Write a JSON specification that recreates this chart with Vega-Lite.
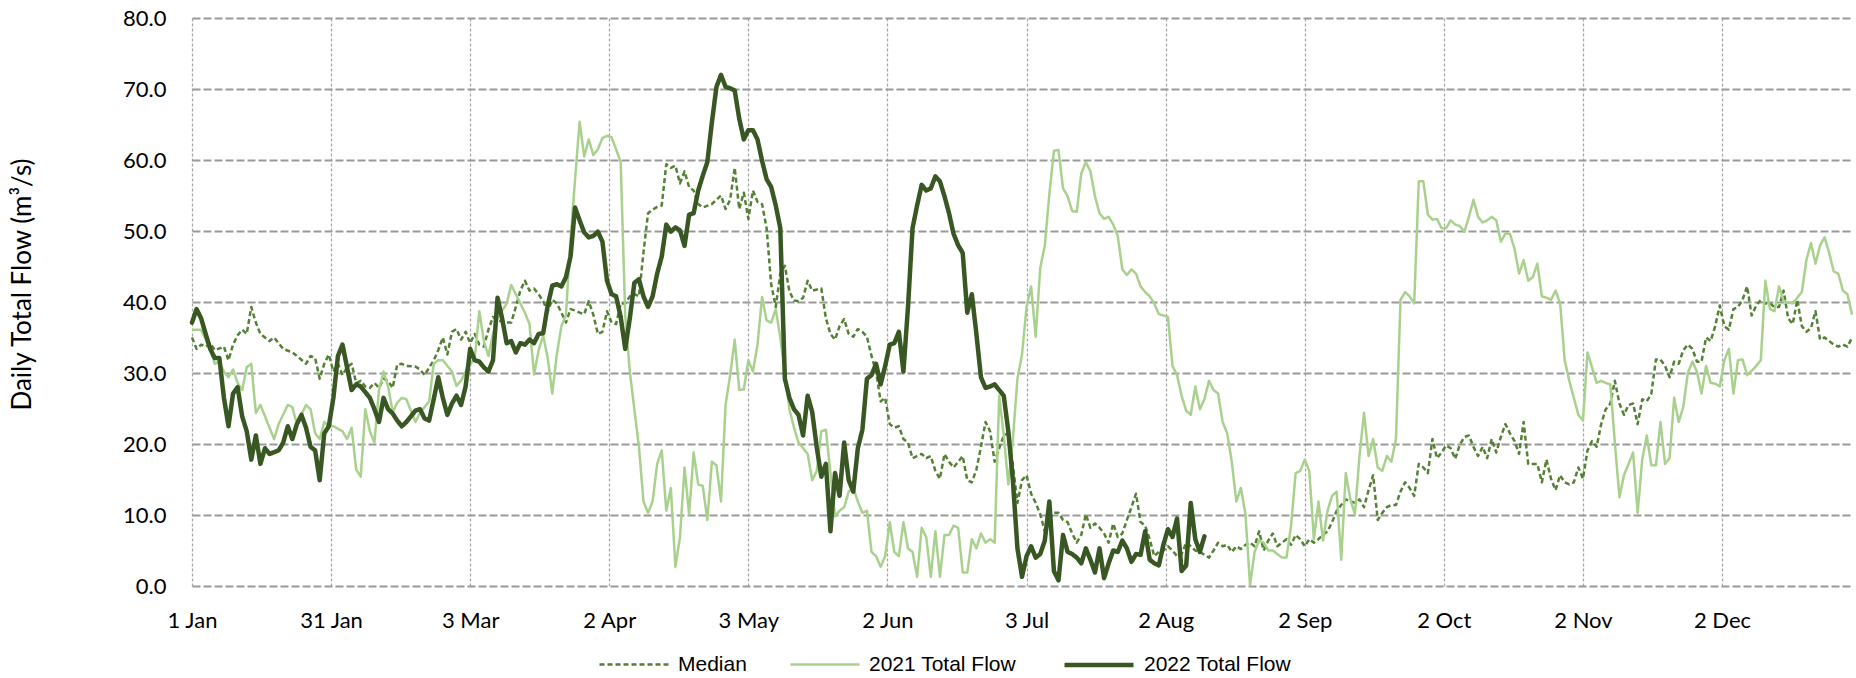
{
"$schema": "https://vega.github.io/schema/vega-lite/v6.json",
"width": 1660, "height": 568,
"autosize": {"type": "none"},
"padding": {"left": 192, "top": 18, "right": 4, "bottom": 92},
"background": "white",
"config": {"view": {"stroke": null}, "font": "Lato"},
"data": {"values": [
{"series":"Median","day":1,"flow":35.0},{"series":"Median","day":2,"flow":33.4},{"series":"Median","day":3,"flow":34.0},{"series":"Median","day":4,"flow":33.7},{"series":"Median","day":5,"flow":34.2},{"series":"Median","day":6,"flow":33.2},{"series":"Median","day":8,"flow":33.7},{"series":"Median","day":9,"flow":31.8},{"series":"Median","day":10,"flow":34.0},{"series":"Median","day":11,"flow":35.3},{"series":"Median","day":12,"flow":36.1},{"series":"Median","day":13,"flow":35.5},{"series":"Median","day":14,"flow":39.3},{"series":"Median","day":15,"flow":37.1},{"series":"Median","day":16,"flow":35.5},{"series":"Median","day":18,"flow":34.5},{"series":"Median","day":19,"flow":35.0},{"series":"Median","day":20,"flow":34.2},{"series":"Median","day":21,"flow":33.4},{"series":"Median","day":23,"flow":32.9},{"series":"Median","day":24,"flow":32.4},{"series":"Median","day":26,"flow":31.3},{"series":"Median","day":27,"flow":32.4},{"series":"Median","day":28,"flow":32.1},{"series":"Median","day":29,"flow":29.2},{"series":"Median","day":30,"flow":31.3},{"series":"Median","day":31,"flow":32.6},{"series":"Median","day":32,"flow":30.2},{"series":"Median","day":33,"flow":31.3},{"series":"Median","day":34,"flow":29.7},{"series":"Median","day":35,"flow":30.8},{"series":"Median","day":36,"flow":31.3},{"series":"Median","day":37,"flow":28.6},{"series":"Median","day":38,"flow":28.9},{"series":"Median","day":39,"flow":28.1},{"series":"Median","day":40,"flow":27.9},{"series":"Median","day":41,"flow":28.6},{"series":"Median","day":42,"flow":27.9},{"series":"Median","day":43,"flow":29.2},{"series":"Median","day":44,"flow":28.9},{"series":"Median","day":45,"flow":27.9},{"series":"Median","day":46,"flow":31.2},{"series":"Median","day":47,"flow":31.3},{"series":"Median","day":48,"flow":31.0},{"series":"Median","day":50,"flow":30.9},{"series":"Median","day":51,"flow":30.5},{"series":"Median","day":52,"flow":29.7},{"series":"Median","day":54,"flow":31.8},{"series":"Median","day":55,"flow":33.2},{"series":"Median","day":56,"flow":35.0},{"series":"Median","day":57,"flow":32.6},{"series":"Median","day":58,"flow":35.8},{"series":"Median","day":59,"flow":36.2},{"series":"Median","day":60,"flow":34.7},{"series":"Median","day":61,"flow":35.8},{"series":"Median","day":62,"flow":34.2},{"series":"Median","day":63,"flow":35.5},{"series":"Median","day":64,"flow":34.0},{"series":"Median","day":65,"flow":33.7},{"series":"Median","day":66,"flow":36.1},{"series":"Median","day":67,"flow":37.9},{"series":"Median","day":68,"flow":37.4},{"series":"Median","day":70,"flow":37.1},{"series":"Median","day":71,"flow":37.1},{"series":"Median","day":72,"flow":39.3},{"series":"Median","day":73,"flow":41.6},{"series":"Median","day":74,"flow":43.0},{"series":"Median","day":75,"flow":41.6},{"series":"Median","day":76,"flow":41.9},{"series":"Median","day":77,"flow":41.1},{"series":"Median","day":78,"flow":40.1},{"series":"Median","day":79,"flow":38.7},{"series":"Median","day":80,"flow":40.3},{"series":"Median","day":81,"flow":39.8},{"series":"Median","day":82,"flow":38.5},{"series":"Median","day":83,"flow":37.1},{"series":"Median","day":84,"flow":39.0},{"series":"Median","day":85,"flow":38.8},{"series":"Median","day":86,"flow":38.5},{"series":"Median","day":87,"flow":38.3},{"series":"Median","day":88,"flow":40.1},{"series":"Median","day":89,"flow":38.2},{"series":"Median","day":90,"flow":35.5},{"series":"Median","day":91,"flow":35.8},{"series":"Median","day":92,"flow":38.7},{"series":"Median","day":93,"flow":37.1},{"series":"Median","day":94,"flow":36.9},{"series":"Median","day":95,"flow":39.8},{"series":"Median","day":96,"flow":39.8},{"series":"Median","day":97,"flow":40.8},{"series":"Median","day":98,"flow":41.1},{"series":"Median","day":99,"flow":40.8},{"series":"Median","day":100,"flow":47.0},{"series":"Median","day":101,"flow":52.5},{"series":"Median","day":102,"flow":53.0},{"series":"Median","day":103,"flow":53.4},{"series":"Median","day":104,"flow":53.6},{"series":"Median","day":105,"flow":59.4},{"series":"Median","day":106,"flow":58.9},{"series":"Median","day":107,"flow":59.2},{"series":"Median","day":108,"flow":56.7},{"series":"Median","day":109,"flow":58.4},{"series":"Median","day":110,"flow":56.2},{"series":"Median","day":111,"flow":55.7},{"series":"Median","day":112,"flow":53.8},{"series":"Median","day":113,"flow":53.3},{"series":"Median","day":115,"flow":53.8},{"series":"Median","day":117,"flow":55.0},{"series":"Median","day":118,"flow":53.1},{"series":"Median","day":119,"flow":54.4},{"series":"Median","day":120,"flow":58.9},{"series":"Median","day":121,"flow":53.1},{"series":"Median","day":122,"flow":55.4},{"series":"Median","day":123,"flow":51.7},{"series":"Median","day":124,"flow":55.7},{"series":"Median","day":125,"flow":54.1},{"series":"Median","day":126,"flow":53.8},{"series":"Median","day":127,"flow":50.4},{"series":"Median","day":128,"flow":42.5},{"series":"Median","day":129,"flow":39.3},{"series":"Median","day":130,"flow":44.0},{"series":"Median","day":131,"flow":45.1},{"series":"Median","day":132,"flow":41.5},{"series":"Median","day":133,"flow":40.2},{"series":"Median","day":134,"flow":40.1},{"series":"Median","day":135,"flow":40.6},{"series":"Median","day":136,"flow":43.0},{"series":"Median","day":137,"flow":41.6},{"series":"Median","day":139,"flow":41.9},{"series":"Median","day":140,"flow":37.7},{"series":"Median","day":141,"flow":35.5},{"series":"Median","day":142,"flow":34.7},{"series":"Median","day":143,"flow":36.6},{"series":"Median","day":144,"flow":37.6},{"series":"Median","day":145,"flow":35.5},{"series":"Median","day":146,"flow":35.1},{"series":"Median","day":147,"flow":36.2},{"series":"Median","day":148,"flow":35.8},{"series":"Median","day":149,"flow":35.1},{"series":"Median","day":150,"flow":32.4},{"series":"Median","day":151,"flow":30.2},{"series":"Median","day":152,"flow":26.0},{"series":"Median","day":153,"flow":26.5},{"series":"Median","day":154,"flow":22.8},{"series":"Median","day":155,"flow":22.3},{"series":"Median","day":156,"flow":22.5},{"series":"Median","day":157,"flow":20.7},{"series":"Median","day":158,"flow":20.2},{"series":"Median","day":159,"flow":18.0},{"series":"Median","day":160,"flow":18.3},{"series":"Median","day":161,"flow":18.6},{"series":"Median","day":162,"flow":18.0},{"series":"Median","day":163,"flow":18.3},{"series":"Median","day":164,"flow":16.2},{"series":"Median","day":165,"flow":15.1},{"series":"Median","day":166,"flow":18.6},{"series":"Median","day":167,"flow":17.5},{"series":"Median","day":168,"flow":16.7},{"series":"Median","day":169,"flow":17.5},{"series":"Median","day":170,"flow":18.3},{"series":"Median","day":171,"flow":14.9},{"series":"Median","day":172,"flow":14.6},{"series":"Median","day":173,"flow":16.4},{"series":"Median","day":174,"flow":19.6},{"series":"Median","day":175,"flow":23.1},{"series":"Median","day":176,"flow":21.8},{"series":"Median","day":177,"flow":17.5},{"series":"Median","day":178,"flow":19.4},{"series":"Median","day":179,"flow":21.2},{"series":"Median","day":180,"flow":21.5},{"series":"Median","day":181,"flow":17.0},{"series":"Median","day":182,"flow":11.7},{"series":"Median","day":183,"flow":14.9},{"series":"Median","day":184,"flow":15.6},{"series":"Median","day":185,"flow":13.0},{"series":"Median","day":186,"flow":11.7},{"series":"Median","day":187,"flow":10.1},{"series":"Median","day":188,"flow":7.7},{"series":"Median","day":189,"flow":9.5},{"series":"Median","day":190,"flow":10.3},{"series":"Median","day":191,"flow":10.3},{"series":"Median","day":192,"flow":9.3},{"series":"Median","day":193,"flow":9.0},{"series":"Median","day":194,"flow":7.4},{"series":"Median","day":195,"flow":6.1},{"series":"Median","day":196,"flow":7.2},{"series":"Median","day":197,"flow":10.1},{"series":"Median","day":198,"flow":8.2},{"series":"Median","day":199,"flow":8.8},{"series":"Median","day":200,"flow":8.2},{"series":"Median","day":201,"flow":7.4},{"series":"Median","day":202,"flow":6.1},{"series":"Median","day":203,"flow":8.8},{"series":"Median","day":204,"flow":6.9},{"series":"Median","day":205,"flow":7.4},{"series":"Median","day":206,"flow":9.3},{"series":"Median","day":207,"flow":11.1},{"series":"Median","day":208,"flow":13.0},{"series":"Median","day":209,"flow":9.0},{"series":"Median","day":210,"flow":8.5},{"series":"Median","day":211,"flow":6.6},{"series":"Median","day":212,"flow":4.2},{"series":"Median","day":213,"flow":4.8},{"series":"Median","day":214,"flow":5.0},{"series":"Median","day":215,"flow":5.6},{"series":"Median","day":216,"flow":5.0},{"series":"Median","day":217,"flow":4.2},{"series":"Median","day":218,"flow":4.5},{"series":"Median","day":219,"flow":6.1},{"series":"Median","day":220,"flow":5.6},{"series":"Median","day":221,"flow":5.0},{"series":"Median","day":222,"flow":4.8},{"series":"Median","day":224,"flow":4.0},{"series":"Median","day":225,"flow":5.0},{"series":"Median","day":226,"flow":6.1},{"series":"Median","day":227,"flow":5.6},{"series":"Median","day":228,"flow":5.8},{"series":"Median","day":229,"flow":4.8},{"series":"Median","day":230,"flow":5.6},{"series":"Median","day":231,"flow":5.2},{"series":"Median","day":232,"flow":5.8},{"series":"Median","day":233,"flow":6.1},{"series":"Median","day":234,"flow":5.6},{"series":"Median","day":235,"flow":7.7},{"series":"Median","day":236,"flow":5.0},{"series":"Median","day":237,"flow":6.4},{"series":"Median","day":238,"flow":7.4},{"series":"Median","day":239,"flow":5.6},{"series":"Median","day":240,"flow":6.1},{"series":"Median","day":241,"flow":6.6},{"series":"Median","day":242,"flow":5.8},{"series":"Median","day":243,"flow":7.2},{"series":"Median","day":244,"flow":6.6},{"series":"Median","day":245,"flow":5.6},{"series":"Median","day":246,"flow":6.6},{"series":"Median","day":247,"flow":6.1},{"series":"Median","day":248,"flow":6.6},{"series":"Median","day":249,"flow":7.2},{"series":"Median","day":250,"flow":7.7},{"series":"Median","day":251,"flow":9.0},{"series":"Median","day":252,"flow":10.6},{"series":"Median","day":253,"flow":11.4},{"series":"Median","day":254,"flow":12.2},{"series":"Median","day":256,"flow":11.7},{"series":"Median","day":257,"flow":12.2},{"series":"Median","day":258,"flow":11.1},{"series":"Median","day":259,"flow":13.5},{"series":"Median","day":260,"flow":15.6},{"series":"Median","day":261,"flow":9.3},{"series":"Median","day":262,"flow":10.3},{"series":"Median","day":263,"flow":11.1},{"series":"Median","day":264,"flow":11.4},{"series":"Median","day":265,"flow":11.4},{"series":"Median","day":266,"flow":13.3},{"series":"Median","day":267,"flow":14.6},{"series":"Median","day":268,"flow":13.8},{"series":"Median","day":269,"flow":12.7},{"series":"Median","day":270,"flow":17.2},{"series":"Median","day":271,"flow":16.7},{"series":"Median","day":272,"flow":15.9},{"series":"Median","day":273,"flow":20.7},{"series":"Median","day":274,"flow":18.0},{"series":"Median","day":275,"flow":18.8},{"series":"Median","day":276,"flow":19.8},{"series":"Median","day":277,"flow":19.4},{"series":"Median","day":278,"flow":17.9},{"series":"Median","day":279,"flow":19.9},{"series":"Median","day":280,"flow":21.0},{"series":"Median","day":281,"flow":21.2},{"series":"Median","day":282,"flow":19.6},{"series":"Median","day":283,"flow":18.3},{"series":"Median","day":284,"flow":19.6},{"series":"Median","day":285,"flow":18.0},{"series":"Median","day":286,"flow":20.7},{"series":"Median","day":287,"flow":18.8},{"series":"Median","day":288,"flow":21.0},{"series":"Median","day":289,"flow":22.8},{"series":"Median","day":290,"flow":21.5},{"series":"Median","day":291,"flow":20.4},{"series":"Median","day":292,"flow":18.6},{"series":"Median","day":293,"flow":23.1},{"series":"Median","day":294,"flow":17.2},{"series":"Median","day":295,"flow":17.2},{"series":"Median","day":296,"flow":17.2},{"series":"Median","day":297,"flow":14.6},{"series":"Median","day":298,"flow":17.8},{"series":"Median","day":299,"flow":15.1},{"series":"Median","day":300,"flow":13.5},{"series":"Median","day":301,"flow":15.6},{"series":"Median","day":302,"flow":14.6},{"series":"Median","day":303,"flow":14.3},{"series":"Median","day":304,"flow":14.6},{"series":"Median","day":305,"flow":16.7},{"series":"Median","day":306,"flow":15.1},{"series":"Median","day":307,"flow":19.1},{"series":"Median","day":308,"flow":20.4},{"series":"Median","day":309,"flow":19.6},{"series":"Median","day":310,"flow":22.8},{"series":"Median","day":311,"flow":24.9},{"series":"Median","day":312,"flow":25.7},{"series":"Median","day":313,"flow":28.9},{"series":"Median","day":314,"flow":25.7},{"series":"Median","day":315,"flow":24.1},{"series":"Median","day":316,"flow":25.5},{"series":"Median","day":317,"flow":25.7},{"series":"Median","day":318,"flow":22.8},{"series":"Median","day":319,"flow":26.3},{"series":"Median","day":320,"flow":26.0},{"series":"Median","day":321,"flow":27.1},{"series":"Median","day":322,"flow":31.9},{"series":"Median","day":323,"flow":31.9},{"series":"Median","day":324,"flow":31.0},{"series":"Median","day":325,"flow":29.4},{"series":"Median","day":326,"flow":31.6},{"series":"Median","day":327,"flow":31.3},{"series":"Median","day":328,"flow":33.2},{"series":"Median","day":329,"flow":34.0},{"series":"Median","day":330,"flow":33.4},{"series":"Median","day":331,"flow":31.6},{"series":"Median","day":332,"flow":31.6},{"series":"Median","day":333,"flow":35.0},{"series":"Median","day":334,"flow":34.5},{"series":"Median","day":335,"flow":36.6},{"series":"Median","day":336,"flow":39.5},{"series":"Median","day":337,"flow":36.6},{"series":"Median","day":338,"flow":36.1},{"series":"Median","day":339,"flow":39.0},{"series":"Median","day":340,"flow":39.3},{"series":"Median","day":341,"flow":40.3},{"series":"Median","day":342,"flow":42.2},{"series":"Median","day":343,"flow":38.1},{"series":"Median","day":344,"flow":39.5},{"series":"Median","day":345,"flow":40.3},{"series":"Median","day":346,"flow":39.8},{"series":"Median","day":347,"flow":39.8},{"series":"Median","day":348,"flow":39.3},{"series":"Median","day":349,"flow":39.3},{"series":"Median","day":350,"flow":41.6},{"series":"Median","day":351,"flow":37.7},{"series":"Median","day":352,"flow":36.9},{"series":"Median","day":353,"flow":40.3},{"series":"Median","day":354,"flow":36.6},{"series":"Median","day":355,"flow":35.8},{"series":"Median","day":356,"flow":36.3},{"series":"Median","day":357,"flow":38.7},{"series":"Median","day":358,"flow":34.7},{"series":"Median","day":359,"flow":35.0},{"series":"Median","day":360,"flow":34.5},{"series":"Median","day":361,"flow":34.0},{"series":"Median","day":362,"flow":33.7},{"series":"Median","day":363,"flow":34.0},{"series":"Median","day":364,"flow":33.7},{"series":"Median","day":365,"flow":35.0},
{"series":"2021 Total Flow","day":1,"flow":36.1},{"series":"2021 Total Flow","day":3,"flow":36.1},{"series":"2021 Total Flow","day":4,"flow":34.7},{"series":"2021 Total Flow","day":5,"flow":33.2},{"series":"2021 Total Flow","day":6,"flow":31.3},{"series":"2021 Total Flow","day":7,"flow":31.6},{"series":"2021 Total Flow","day":8,"flow":30.2},{"series":"2021 Total Flow","day":9,"flow":29.4},{"series":"2021 Total Flow","day":10,"flow":30.5},{"series":"2021 Total Flow","day":11,"flow":28.6},{"series":"2021 Total Flow","day":12,"flow":27.6},{"series":"2021 Total Flow","day":13,"flow":30.8},{"series":"2021 Total Flow","day":14,"flow":31.3},{"series":"2021 Total Flow","day":15,"flow":24.4},{"series":"2021 Total Flow","day":16,"flow":25.5},{"series":"2021 Total Flow","day":17,"flow":23.9},{"series":"2021 Total Flow","day":19,"flow":20.7},{"series":"2021 Total Flow","day":20,"flow":22.8},{"series":"2021 Total Flow","day":22,"flow":25.5},{"series":"2021 Total Flow","day":23,"flow":25.2},{"series":"2021 Total Flow","day":24,"flow":22.8},{"series":"2021 Total Flow","day":26,"flow":25.5},{"series":"2021 Total Flow","day":27,"flow":24.9},{"series":"2021 Total Flow","day":28,"flow":21.5},{"series":"2021 Total Flow","day":29,"flow":20.7},{"series":"2021 Total Flow","day":30,"flow":23.1},{"series":"2021 Total Flow","day":31,"flow":22.5},{"series":"2021 Total Flow","day":32,"flow":22.5},{"series":"2021 Total Flow","day":34,"flow":21.8},{"series":"2021 Total Flow","day":35,"flow":20.7},{"series":"2021 Total Flow","day":36,"flow":22.3},{"series":"2021 Total Flow","day":37,"flow":16.4},{"series":"2021 Total Flow","day":38,"flow":15.4},{"series":"2021 Total Flow","day":39,"flow":24.9},{"series":"2021 Total Flow","day":40,"flow":21.8},{"series":"2021 Total Flow","day":41,"flow":20.2},{"series":"2021 Total Flow","day":42,"flow":27.6},{"series":"2021 Total Flow","day":43,"flow":30.2},{"series":"2021 Total Flow","day":44,"flow":28.1},{"series":"2021 Total Flow","day":45,"flow":24.5},{"series":"2021 Total Flow","day":46,"flow":25.8},{"series":"2021 Total Flow","day":47,"flow":26.5},{"series":"2021 Total Flow","day":48,"flow":26.3},{"series":"2021 Total Flow","day":49,"flow":24.7},{"series":"2021 Total Flow","day":50,"flow":23.1},{"series":"2021 Total Flow","day":51,"flow":24.4},{"series":"2021 Total Flow","day":52,"flow":25.2},{"series":"2021 Total Flow","day":53,"flow":26.0},{"series":"2021 Total Flow","day":54,"flow":31.3},{"series":"2021 Total Flow","day":55,"flow":31.8},{"series":"2021 Total Flow","day":56,"flow":31.8},{"series":"2021 Total Flow","day":58,"flow":30.2},{"series":"2021 Total Flow","day":59,"flow":28.2},{"series":"2021 Total Flow","day":60,"flow":28.9},{"series":"2021 Total Flow","day":61,"flow":30.2},{"series":"2021 Total Flow","day":63,"flow":32.1},{"series":"2021 Total Flow","day":64,"flow":38.7},{"series":"2021 Total Flow","day":65,"flow":34.5},{"series":"2021 Total Flow","day":66,"flow":32.4},{"series":"2021 Total Flow","day":67,"flow":35.5},{"series":"2021 Total Flow","day":68,"flow":37.7},{"series":"2021 Total Flow","day":70,"flow":39.8},{"series":"2021 Total Flow","day":71,"flow":42.4},{"series":"2021 Total Flow","day":72,"flow":41.1},{"series":"2021 Total Flow","day":73,"flow":39.8},{"series":"2021 Total Flow","day":74,"flow":38.5},{"series":"2021 Total Flow","day":75,"flow":36.9},{"series":"2021 Total Flow","day":76,"flow":29.8},{"series":"2021 Total Flow","day":77,"flow":33.2},{"series":"2021 Total Flow","day":78,"flow":35.3},{"series":"2021 Total Flow","day":79,"flow":32.1},{"series":"2021 Total Flow","day":80,"flow":27.1},{"series":"2021 Total Flow","day":81,"flow":32.6},{"series":"2021 Total Flow","day":82,"flow":36.6},{"series":"2021 Total Flow","day":83,"flow":38.2},{"series":"2021 Total Flow","day":84,"flow":48.8},{"series":"2021 Total Flow","day":85,"flow":57.3},{"series":"2021 Total Flow","day":86,"flow":65.4},{"series":"2021 Total Flow","day":87,"flow":60.5},{"series":"2021 Total Flow","day":88,"flow":62.9},{"series":"2021 Total Flow","day":89,"flow":60.7},{"series":"2021 Total Flow","day":90,"flow":61.5},{"series":"2021 Total Flow","day":91,"flow":63.1},{"series":"2021 Total Flow","day":92,"flow":63.4},{"series":"2021 Total Flow","day":93,"flow":63.2},{"series":"2021 Total Flow","day":94,"flow":61.5},{"series":"2021 Total Flow","day":95,"flow":59.7},{"series":"2021 Total Flow","day":96,"flow":38.0},{"series":"2021 Total Flow","day":97,"flow":30.2},{"series":"2021 Total Flow","day":98,"flow":24.9},{"series":"2021 Total Flow","day":99,"flow":19.6},{"series":"2021 Total Flow","day":100,"flow":11.9},{"series":"2021 Total Flow","day":101,"flow":10.3},{"series":"2021 Total Flow","day":102,"flow":11.9},{"series":"2021 Total Flow","day":103,"flow":17.2},{"series":"2021 Total Flow","day":104,"flow":19.1},{"series":"2021 Total Flow","day":105,"flow":10.6},{"series":"2021 Total Flow","day":106,"flow":13.8},{"series":"2021 Total Flow","day":107,"flow":2.7},{"series":"2021 Total Flow","day":108,"flow":6.9},{"series":"2021 Total Flow","day":109,"flow":16.7},{"series":"2021 Total Flow","day":110,"flow":10.1},{"series":"2021 Total Flow","day":111,"flow":18.8},{"series":"2021 Total Flow","day":112,"flow":14.3},{"series":"2021 Total Flow","day":113,"flow":14.1},{"series":"2021 Total Flow","day":114,"flow":9.3},{"series":"2021 Total Flow","day":115,"flow":17.5},{"series":"2021 Total Flow","day":116,"flow":17.0},{"series":"2021 Total Flow","day":117,"flow":11.9},{"series":"2021 Total Flow","day":118,"flow":25.5},{"series":"2021 Total Flow","day":119,"flow":29.7},{"series":"2021 Total Flow","day":120,"flow":34.7},{"series":"2021 Total Flow","day":121,"flow":27.6},{"series":"2021 Total Flow","day":122,"flow":27.7},{"series":"2021 Total Flow","day":123,"flow":31.8},{"series":"2021 Total Flow","day":124,"flow":30.2},{"series":"2021 Total Flow","day":125,"flow":34.0},{"series":"2021 Total Flow","day":126,"flow":40.7},{"series":"2021 Total Flow","day":127,"flow":37.4},{"series":"2021 Total Flow","day":128,"flow":37.1},{"series":"2021 Total Flow","day":129,"flow":39.0},{"series":"2021 Total Flow","day":130,"flow":35.0},{"series":"2021 Total Flow","day":131,"flow":30.0},{"series":"2021 Total Flow","day":132,"flow":24.9},{"series":"2021 Total Flow","day":133,"flow":22.3},{"series":"2021 Total Flow","day":134,"flow":20.2},{"series":"2021 Total Flow","day":136,"flow":18.6},{"series":"2021 Total Flow","day":137,"flow":14.9},{"series":"2021 Total Flow","day":138,"flow":16.2},{"series":"2021 Total Flow","day":139,"flow":21.8},{"series":"2021 Total Flow","day":140,"flow":22.0},{"series":"2021 Total Flow","day":141,"flow":15.9},{"series":"2021 Total Flow","day":142,"flow":9.8},{"series":"2021 Total Flow","day":143,"flow":10.6},{"series":"2021 Total Flow","day":144,"flow":11.1},{"series":"2021 Total Flow","day":145,"flow":13.3},{"series":"2021 Total Flow","day":146,"flow":13.8},{"series":"2021 Total Flow","day":147,"flow":11.9},{"series":"2021 Total Flow","day":148,"flow":10.3},{"series":"2021 Total Flow","day":149,"flow":10.6},{"series":"2021 Total Flow","day":150,"flow":4.8},{"series":"2021 Total Flow","day":151,"flow":4.2},{"series":"2021 Total Flow","day":152,"flow":2.7},{"series":"2021 Total Flow","day":153,"flow":4.2},{"series":"2021 Total Flow","day":154,"flow":9.0},{"series":"2021 Total Flow","day":155,"flow":4.8},{"series":"2021 Total Flow","day":156,"flow":4.2},{"series":"2021 Total Flow","day":157,"flow":9.0},{"series":"2021 Total Flow","day":158,"flow":5.3},{"series":"2021 Total Flow","day":159,"flow":4.8},{"series":"2021 Total Flow","day":160,"flow":1.3},{"series":"2021 Total Flow","day":161,"flow":8.2},{"series":"2021 Total Flow","day":162,"flow":6.9},{"series":"2021 Total Flow","day":163,"flow":1.3},{"series":"2021 Total Flow","day":164,"flow":7.7},{"series":"2021 Total Flow","day":165,"flow":1.3},{"series":"2021 Total Flow","day":166,"flow":7.2},{"series":"2021 Total Flow","day":167,"flow":7.2},{"series":"2021 Total Flow","day":168,"flow":8.5},{"series":"2021 Total Flow","day":169,"flow":8.2},{"series":"2021 Total Flow","day":170,"flow":1.9},{"series":"2021 Total Flow","day":171,"flow":1.9},{"series":"2021 Total Flow","day":172,"flow":6.6},{"series":"2021 Total Flow","day":173,"flow":5.3},{"series":"2021 Total Flow","day":174,"flow":7.4},{"series":"2021 Total Flow","day":175,"flow":6.1},{"series":"2021 Total Flow","day":176,"flow":6.6},{"series":"2021 Total Flow","day":177,"flow":6.1},{"series":"2021 Total Flow","day":178,"flow":26.8},{"series":"2021 Total Flow","day":179,"flow":21.2},{"series":"2021 Total Flow","day":180,"flow":14.3},{"series":"2021 Total Flow","day":181,"flow":20.7},{"series":"2021 Total Flow","day":182,"flow":29.2},{"series":"2021 Total Flow","day":183,"flow":32.6},{"series":"2021 Total Flow","day":184,"flow":39.3},{"series":"2021 Total Flow","day":185,"flow":42.2},{"series":"2021 Total Flow","day":186,"flow":35.1},{"series":"2021 Total Flow","day":187,"flow":44.8},{"series":"2021 Total Flow","day":188,"flow":48.0},{"series":"2021 Total Flow","day":189,"flow":55.2},{"series":"2021 Total Flow","day":190,"flow":61.3},{"series":"2021 Total Flow","day":191,"flow":61.4},{"series":"2021 Total Flow","day":192,"flow":56.0},{"series":"2021 Total Flow","day":193,"flow":54.9},{"series":"2021 Total Flow","day":194,"flow":52.8},{"series":"2021 Total Flow","day":195,"flow":52.7},{"series":"2021 Total Flow","day":196,"flow":58.1},{"series":"2021 Total Flow","day":197,"flow":59.7},{"series":"2021 Total Flow","day":198,"flow":58.4},{"series":"2021 Total Flow","day":199,"flow":54.9},{"series":"2021 Total Flow","day":200,"flow":52.5},{"series":"2021 Total Flow","day":201,"flow":51.7},{"series":"2021 Total Flow","day":202,"flow":52.0},{"series":"2021 Total Flow","day":203,"flow":50.9},{"series":"2021 Total Flow","day":204,"flow":49.3},{"series":"2021 Total Flow","day":205,"flow":44.6},{"series":"2021 Total Flow","day":206,"flow":43.8},{"series":"2021 Total Flow","day":207,"flow":44.6},{"series":"2021 Total Flow","day":208,"flow":44.0},{"series":"2021 Total Flow","day":209,"flow":42.2},{"series":"2021 Total Flow","day":210,"flow":41.4},{"series":"2021 Total Flow","day":211,"flow":40.8},{"series":"2021 Total Flow","day":212,"flow":39.8},{"series":"2021 Total Flow","day":213,"flow":38.3},{"series":"2021 Total Flow","day":214,"flow":38.1},{"series":"2021 Total Flow","day":215,"flow":37.9},{"series":"2021 Total Flow","day":216,"flow":31.0},{"series":"2021 Total Flow","day":217,"flow":29.7},{"series":"2021 Total Flow","day":218,"flow":26.8},{"series":"2021 Total Flow","day":219,"flow":24.7},{"series":"2021 Total Flow","day":220,"flow":24.1},{"series":"2021 Total Flow","day":221,"flow":28.1},{"series":"2021 Total Flow","day":222,"flow":24.9},{"series":"2021 Total Flow","day":223,"flow":26.3},{"series":"2021 Total Flow","day":224,"flow":28.9},{"series":"2021 Total Flow","day":225,"flow":27.6},{"series":"2021 Total Flow","day":226,"flow":27.1},{"series":"2021 Total Flow","day":227,"flow":23.1},{"series":"2021 Total Flow","day":228,"flow":21.5},{"series":"2021 Total Flow","day":229,"flow":17.5},{"series":"2021 Total Flow","day":230,"flow":11.9},{"series":"2021 Total Flow","day":231,"flow":13.8},{"series":"2021 Total Flow","day":232,"flow":10.1},{"series":"2021 Total Flow","day":233,"flow":0.1},{"series":"2021 Total Flow","day":234,"flow":4.8},{"series":"2021 Total Flow","day":235,"flow":6.4},{"series":"2021 Total Flow","day":236,"flow":6.1},{"series":"2021 Total Flow","day":237,"flow":5.0},{"series":"2021 Total Flow","day":238,"flow":5.0},{"series":"2021 Total Flow","day":239,"flow":4.5},{"series":"2021 Total Flow","day":240,"flow":4.0},{"series":"2021 Total Flow","day":241,"flow":4.0},{"series":"2021 Total Flow","day":242,"flow":8.5},{"series":"2021 Total Flow","day":243,"flow":15.9},{"series":"2021 Total Flow","day":244,"flow":16.2},{"series":"2021 Total Flow","day":245,"flow":17.8},{"series":"2021 Total Flow","day":246,"flow":16.2},{"series":"2021 Total Flow","day":247,"flow":6.6},{"series":"2021 Total Flow","day":248,"flow":11.9},{"series":"2021 Total Flow","day":249,"flow":6.4},{"series":"2021 Total Flow","day":250,"flow":10.6},{"series":"2021 Total Flow","day":251,"flow":12.7},{"series":"2021 Total Flow","day":252,"flow":13.3},{"series":"2021 Total Flow","day":253,"flow":3.7},{"series":"2021 Total Flow","day":254,"flow":15.9},{"series":"2021 Total Flow","day":255,"flow":12.2},{"series":"2021 Total Flow","day":256,"flow":10.1},{"series":"2021 Total Flow","day":257,"flow":18.3},{"series":"2021 Total Flow","day":258,"flow":24.4},{"series":"2021 Total Flow","day":259,"flow":18.3},{"series":"2021 Total Flow","day":260,"flow":20.7},{"series":"2021 Total Flow","day":261,"flow":16.7},{"series":"2021 Total Flow","day":262,"flow":16.2},{"series":"2021 Total Flow","day":263,"flow":18.3},{"series":"2021 Total Flow","day":264,"flow":17.5},{"series":"2021 Total Flow","day":265,"flow":20.7},{"series":"2021 Total Flow","day":266,"flow":40.3},{"series":"2021 Total Flow","day":267,"flow":41.4},{"series":"2021 Total Flow","day":268,"flow":40.8},{"series":"2021 Total Flow","day":269,"flow":39.8},{"series":"2021 Total Flow","day":270,"flow":57.0},{"series":"2021 Total Flow","day":271,"flow":57.0},{"series":"2021 Total Flow","day":272,"flow":52.3},{"series":"2021 Total Flow","day":273,"flow":51.6},{"series":"2021 Total Flow","day":274,"flow":51.7},{"series":"2021 Total Flow","day":275,"flow":50.4},{"series":"2021 Total Flow","day":276,"flow":50.4},{"series":"2021 Total Flow","day":277,"flow":51.5},{"series":"2021 Total Flow","day":278,"flow":50.9},{"series":"2021 Total Flow","day":279,"flow":50.7},{"series":"2021 Total Flow","day":280,"flow":49.9},{"series":"2021 Total Flow","day":281,"flow":52.0},{"series":"2021 Total Flow","day":282,"flow":54.4},{"series":"2021 Total Flow","day":283,"flow":52.0},{"series":"2021 Total Flow","day":284,"flow":51.2},{"series":"2021 Total Flow","day":285,"flow":51.5},{"series":"2021 Total Flow","day":286,"flow":52.0},{"series":"2021 Total Flow","day":287,"flow":51.5},{"series":"2021 Total Flow","day":288,"flow":48.5},{"series":"2021 Total Flow","day":289,"flow":49.6},{"series":"2021 Total Flow","day":290,"flow":49.6},{"series":"2021 Total Flow","day":291,"flow":47.5},{"series":"2021 Total Flow","day":292,"flow":44.0},{"series":"2021 Total Flow","day":293,"flow":45.9},{"series":"2021 Total Flow","day":294,"flow":43.0},{"series":"2021 Total Flow","day":295,"flow":43.5},{"series":"2021 Total Flow","day":296,"flow":45.4},{"series":"2021 Total Flow","day":297,"flow":40.8},{"series":"2021 Total Flow","day":298,"flow":40.6},{"series":"2021 Total Flow","day":299,"flow":40.3},{"series":"2021 Total Flow","day":300,"flow":41.6},{"series":"2021 Total Flow","day":301,"flow":39.8},{"series":"2021 Total Flow","day":302,"flow":31.8},{"series":"2021 Total Flow","day":303,"flow":28.9},{"series":"2021 Total Flow","day":304,"flow":26.5},{"series":"2021 Total Flow","day":305,"flow":24.1},{"series":"2021 Total Flow","day":306,"flow":23.3},{"series":"2021 Total Flow","day":307,"flow":32.9},{"series":"2021 Total Flow","day":308,"flow":30.8},{"series":"2021 Total Flow","day":309,"flow":28.6},{"series":"2021 Total Flow","day":310,"flow":28.9},{"series":"2021 Total Flow","day":311,"flow":28.6},{"series":"2021 Total Flow","day":312,"flow":28.4},{"series":"2021 Total Flow","day":313,"flow":20.2},{"series":"2021 Total Flow","day":314,"flow":12.5},{"series":"2021 Total Flow","day":315,"flow":15.6},{"series":"2021 Total Flow","day":316,"flow":17.2},{"series":"2021 Total Flow","day":317,"flow":18.8},{"series":"2021 Total Flow","day":318,"flow":10.3},{"series":"2021 Total Flow","day":319,"flow":17.8},{"series":"2021 Total Flow","day":320,"flow":21.2},{"series":"2021 Total Flow","day":321,"flow":17.0},{"series":"2021 Total Flow","day":322,"flow":17.0},{"series":"2021 Total Flow","day":323,"flow":23.1},{"series":"2021 Total Flow","day":324,"flow":17.2},{"series":"2021 Total Flow","day":325,"flow":18.0},{"series":"2021 Total Flow","day":326,"flow":26.5},{"series":"2021 Total Flow","day":327,"flow":23.1},{"series":"2021 Total Flow","day":328,"flow":25.2},{"series":"2021 Total Flow","day":329,"flow":30.0},{"series":"2021 Total Flow","day":330,"flow":31.6},{"series":"2021 Total Flow","day":331,"flow":30.2},{"series":"2021 Total Flow","day":332,"flow":27.1},{"series":"2021 Total Flow","day":333,"flow":31.0},{"series":"2021 Total Flow","day":334,"flow":28.6},{"series":"2021 Total Flow","day":335,"flow":28.5},{"series":"2021 Total Flow","day":336,"flow":28.1},{"series":"2021 Total Flow","day":337,"flow":31.8},{"series":"2021 Total Flow","day":338,"flow":33.4},{"series":"2021 Total Flow","day":339,"flow":27.1},{"series":"2021 Total Flow","day":340,"flow":31.8},{"series":"2021 Total Flow","day":341,"flow":31.9},{"series":"2021 Total Flow","day":342,"flow":29.7},{"series":"2021 Total Flow","day":343,"flow":30.3},{"series":"2021 Total Flow","day":344,"flow":31.0},{"series":"2021 Total Flow","day":345,"flow":31.8},{"series":"2021 Total Flow","day":346,"flow":43.0},{"series":"2021 Total Flow","day":347,"flow":39.0},{"series":"2021 Total Flow","day":348,"flow":38.7},{"series":"2021 Total Flow","day":349,"flow":42.2},{"series":"2021 Total Flow","day":350,"flow":40.1},{"series":"2021 Total Flow","day":351,"flow":39.9},{"series":"2021 Total Flow","day":352,"flow":39.8},{"series":"2021 Total Flow","day":353,"flow":40.6},{"series":"2021 Total Flow","day":354,"flow":41.4},{"series":"2021 Total Flow","day":355,"flow":45.9},{"series":"2021 Total Flow","day":356,"flow":48.3},{"series":"2021 Total Flow","day":357,"flow":45.4},{"series":"2021 Total Flow","day":358,"flow":48.0},{"series":"2021 Total Flow","day":359,"flow":49.1},{"series":"2021 Total Flow","day":360,"flow":46.9},{"series":"2021 Total Flow","day":361,"flow":44.3},{"series":"2021 Total Flow","day":362,"flow":44.0},{"series":"2021 Total Flow","day":363,"flow":41.6},{"series":"2021 Total Flow","day":364,"flow":41.1},{"series":"2021 Total Flow","day":365,"flow":38.2},
{"series":"2022 Total Flow","day":1,"flow":37.1},{"series":"2022 Total Flow","day":2,"flow":39.0},{"series":"2022 Total Flow","day":3,"flow":37.7},{"series":"2022 Total Flow","day":4,"flow":35.5},{"series":"2022 Total Flow","day":5,"flow":33.4},{"series":"2022 Total Flow","day":6,"flow":32.1},{"series":"2022 Total Flow","day":7,"flow":32.1},{"series":"2022 Total Flow","day":8,"flow":26.5},{"series":"2022 Total Flow","day":9,"flow":22.5},{"series":"2022 Total Flow","day":10,"flow":27.1},{"series":"2022 Total Flow","day":11,"flow":28.0},{"series":"2022 Total Flow","day":12,"flow":23.9},{"series":"2022 Total Flow","day":13,"flow":21.8},{"series":"2022 Total Flow","day":14,"flow":17.8},{"series":"2022 Total Flow","day":15,"flow":21.2},{"series":"2022 Total Flow","day":16,"flow":17.2},{"series":"2022 Total Flow","day":17,"flow":19.4},{"series":"2022 Total Flow","day":18,"flow":18.6},{"series":"2022 Total Flow","day":20,"flow":19.1},{"series":"2022 Total Flow","day":21,"flow":20.2},{"series":"2022 Total Flow","day":22,"flow":22.5},{"series":"2022 Total Flow","day":23,"flow":20.7},{"series":"2022 Total Flow","day":24,"flow":22.8},{"series":"2022 Total Flow","day":25,"flow":24.1},{"series":"2022 Total Flow","day":26,"flow":22.3},{"series":"2022 Total Flow","day":27,"flow":19.6},{"series":"2022 Total Flow","day":28,"flow":19.1},{"series":"2022 Total Flow","day":29,"flow":14.9},{"series":"2022 Total Flow","day":30,"flow":21.5},{"series":"2022 Total Flow","day":31,"flow":22.5},{"series":"2022 Total Flow","day":32,"flow":26.5},{"series":"2022 Total Flow","day":33,"flow":32.4},{"series":"2022 Total Flow","day":34,"flow":34.0},{"series":"2022 Total Flow","day":35,"flow":30.8},{"series":"2022 Total Flow","day":36,"flow":27.6},{"series":"2022 Total Flow","day":37,"flow":28.4},{"series":"2022 Total Flow","day":38,"flow":28.1},{"series":"2022 Total Flow","day":39,"flow":27.3},{"series":"2022 Total Flow","day":40,"flow":26.5},{"series":"2022 Total Flow","day":41,"flow":24.9},{"series":"2022 Total Flow","day":42,"flow":23.1},{"series":"2022 Total Flow","day":43,"flow":26.5},{"series":"2022 Total Flow","day":44,"flow":24.9},{"series":"2022 Total Flow","day":45,"flow":24.3},{"series":"2022 Total Flow","day":46,"flow":23.3},{"series":"2022 Total Flow","day":47,"flow":22.5},{"series":"2022 Total Flow","day":48,"flow":23.1},{"series":"2022 Total Flow","day":50,"flow":24.7},{"series":"2022 Total Flow","day":51,"flow":24.9},{"series":"2022 Total Flow","day":52,"flow":23.6},{"series":"2022 Total Flow","day":53,"flow":23.3},{"series":"2022 Total Flow","day":54,"flow":26.3},{"series":"2022 Total Flow","day":55,"flow":29.4},{"series":"2022 Total Flow","day":56,"flow":26.5},{"series":"2022 Total Flow","day":57,"flow":24.1},{"series":"2022 Total Flow","day":58,"flow":25.7},{"series":"2022 Total Flow","day":59,"flow":26.8},{"series":"2022 Total Flow","day":60,"flow":25.5},{"series":"2022 Total Flow","day":61,"flow":28.1},{"series":"2022 Total Flow","day":62,"flow":33.4},{"series":"2022 Total Flow","day":63,"flow":31.8},{"series":"2022 Total Flow","day":64,"flow":31.6},{"series":"2022 Total Flow","day":65,"flow":30.8},{"series":"2022 Total Flow","day":66,"flow":30.2},{"series":"2022 Total Flow","day":67,"flow":31.8},{"series":"2022 Total Flow","day":68,"flow":40.6},{"series":"2022 Total Flow","day":69,"flow":37.7},{"series":"2022 Total Flow","day":70,"flow":34.2},{"series":"2022 Total Flow","day":71,"flow":34.5},{"series":"2022 Total Flow","day":72,"flow":32.9},{"series":"2022 Total Flow","day":73,"flow":34.2},{"series":"2022 Total Flow","day":74,"flow":34.0},{"series":"2022 Total Flow","day":75,"flow":34.7},{"series":"2022 Total Flow","day":76,"flow":34.2},{"series":"2022 Total Flow","day":77,"flow":35.5},{"series":"2022 Total Flow","day":78,"flow":35.6},{"series":"2022 Total Flow","day":79,"flow":39.5},{"series":"2022 Total Flow","day":80,"flow":42.3},{"series":"2022 Total Flow","day":81,"flow":42.5},{"series":"2022 Total Flow","day":82,"flow":42.2},{"series":"2022 Total Flow","day":83,"flow":43.5},{"series":"2022 Total Flow","day":84,"flow":46.4},{"series":"2022 Total Flow","day":85,"flow":53.3},{"series":"2022 Total Flow","day":86,"flow":51.5},{"series":"2022 Total Flow","day":87,"flow":49.8},{"series":"2022 Total Flow","day":88,"flow":49.1},{"series":"2022 Total Flow","day":89,"flow":49.3},{"series":"2022 Total Flow","day":90,"flow":49.9},{"series":"2022 Total Flow","day":91,"flow":48.5},{"series":"2022 Total Flow","day":92,"flow":43.0},{"series":"2022 Total Flow","day":93,"flow":41.1},{"series":"2022 Total Flow","day":94,"flow":40.8},{"series":"2022 Total Flow","day":95,"flow":37.9},{"series":"2022 Total Flow","day":96,"flow":33.4},{"series":"2022 Total Flow","day":97,"flow":37.7},{"series":"2022 Total Flow","day":98,"flow":42.7},{"series":"2022 Total Flow","day":99,"flow":43.2},{"series":"2022 Total Flow","day":100,"flow":40.8},{"series":"2022 Total Flow","day":101,"flow":39.3},{"series":"2022 Total Flow","day":102,"flow":40.8},{"series":"2022 Total Flow","day":103,"flow":44.0},{"series":"2022 Total Flow","day":104,"flow":46.4},{"series":"2022 Total Flow","day":105,"flow":50.9},{"series":"2022 Total Flow","day":106,"flow":49.9},{"series":"2022 Total Flow","day":107,"flow":50.5},{"series":"2022 Total Flow","day":108,"flow":50.1},{"series":"2022 Total Flow","day":109,"flow":47.9},{"series":"2022 Total Flow","day":110,"flow":52.3},{"series":"2022 Total Flow","day":111,"flow":52.5},{"series":"2022 Total Flow","day":112,"flow":55.7},{"series":"2022 Total Flow","day":113,"flow":57.8},{"series":"2022 Total Flow","day":114,"flow":59.7},{"series":"2022 Total Flow","day":115,"flow":65.3},{"series":"2022 Total Flow","day":116,"flow":70.3},{"series":"2022 Total Flow","day":117,"flow":72.0},{"series":"2022 Total Flow","day":118,"flow":70.3},{"series":"2022 Total Flow","day":119,"flow":70.1},{"series":"2022 Total Flow","day":120,"flow":69.8},{"series":"2022 Total Flow","day":121,"flow":65.8},{"series":"2022 Total Flow","day":122,"flow":62.9},{"series":"2022 Total Flow","day":123,"flow":64.2},{"series":"2022 Total Flow","day":124,"flow":64.2},{"series":"2022 Total Flow","day":125,"flow":62.9},{"series":"2022 Total Flow","day":126,"flow":59.9},{"series":"2022 Total Flow","day":127,"flow":57.3},{"series":"2022 Total Flow","day":128,"flow":56.2},{"series":"2022 Total Flow","day":129,"flow":53.6},{"series":"2022 Total Flow","day":130,"flow":50.4},{"series":"2022 Total Flow","day":131,"flow":29.2},{"series":"2022 Total Flow","day":132,"flow":26.5},{"series":"2022 Total Flow","day":133,"flow":24.9},{"series":"2022 Total Flow","day":134,"flow":24.1},{"series":"2022 Total Flow","day":135,"flow":21.2},{"series":"2022 Total Flow","day":136,"flow":26.8},{"series":"2022 Total Flow","day":137,"flow":24.5},{"series":"2022 Total Flow","day":138,"flow":19.5},{"series":"2022 Total Flow","day":139,"flow":15.4},{"series":"2022 Total Flow","day":140,"flow":17.2},{"series":"2022 Total Flow","day":141,"flow":7.7},{"series":"2022 Total Flow","day":142,"flow":15.9},{"series":"2022 Total Flow","day":143,"flow":12.7},{"series":"2022 Total Flow","day":144,"flow":20.2},{"series":"2022 Total Flow","day":145,"flow":14.9},{"series":"2022 Total Flow","day":146,"flow":13.3},{"series":"2022 Total Flow","day":147,"flow":19.4},{"series":"2022 Total Flow","day":148,"flow":22.0},{"series":"2022 Total Flow","day":149,"flow":29.2},{"series":"2022 Total Flow","day":150,"flow":29.7},{"series":"2022 Total Flow","day":151,"flow":31.3},{"series":"2022 Total Flow","day":152,"flow":28.4},{"series":"2022 Total Flow","day":153,"flow":31.0},{"series":"2022 Total Flow","day":154,"flow":34.0},{"series":"2022 Total Flow","day":155,"flow":34.2},{"series":"2022 Total Flow","day":156,"flow":35.8},{"series":"2022 Total Flow","day":157,"flow":30.2},{"series":"2022 Total Flow","day":158,"flow":39.3},{"series":"2022 Total Flow","day":159,"flow":50.4},{"series":"2022 Total Flow","day":160,"flow":53.6},{"series":"2022 Total Flow","day":161,"flow":56.5},{"series":"2022 Total Flow","day":162,"flow":55.7},{"series":"2022 Total Flow","day":163,"flow":56.0},{"series":"2022 Total Flow","day":164,"flow":57.7},{"series":"2022 Total Flow","day":165,"flow":57.0},{"series":"2022 Total Flow","day":166,"flow":54.9},{"series":"2022 Total Flow","day":167,"flow":52.5},{"series":"2022 Total Flow","day":168,"flow":49.6},{"series":"2022 Total Flow","day":169,"flow":48.0},{"series":"2022 Total Flow","day":170,"flow":46.9},{"series":"2022 Total Flow","day":171,"flow":38.5},{"series":"2022 Total Flow","day":172,"flow":41.1},{"series":"2022 Total Flow","day":173,"flow":35.5},{"series":"2022 Total Flow","day":174,"flow":29.4},{"series":"2022 Total Flow","day":175,"flow":27.9},{"series":"2022 Total Flow","day":176,"flow":28.1},{"series":"2022 Total Flow","day":177,"flow":28.4},{"series":"2022 Total Flow","day":178,"flow":27.6},{"series":"2022 Total Flow","day":179,"flow":26.8},{"series":"2022 Total Flow","day":180,"flow":21.8},{"series":"2022 Total Flow","day":181,"flow":14.9},{"series":"2022 Total Flow","day":182,"flow":5.3},{"series":"2022 Total Flow","day":183,"flow":1.3},{"series":"2022 Total Flow","day":184,"flow":4.2},{"series":"2022 Total Flow","day":185,"flow":5.6},{"series":"2022 Total Flow","day":186,"flow":4.0},{"series":"2022 Total Flow","day":187,"flow":4.5},{"series":"2022 Total Flow","day":188,"flow":6.4},{"series":"2022 Total Flow","day":189,"flow":11.9},{"series":"2022 Total Flow","day":190,"flow":2.1},{"series":"2022 Total Flow","day":191,"flow":0.8},{"series":"2022 Total Flow","day":192,"flow":7.2},{"series":"2022 Total Flow","day":193,"flow":4.8},{"series":"2022 Total Flow","day":194,"flow":4.5},{"series":"2022 Total Flow","day":195,"flow":4.0},{"series":"2022 Total Flow","day":196,"flow":3.2},{"series":"2022 Total Flow","day":197,"flow":5.3},{"series":"2022 Total Flow","day":198,"flow":3.7},{"series":"2022 Total Flow","day":199,"flow":1.9},{"series":"2022 Total Flow","day":200,"flow":5.3},{"series":"2022 Total Flow","day":201,"flow":1.1},{"series":"2022 Total Flow","day":202,"flow":3.2},{"series":"2022 Total Flow","day":203,"flow":5.0},{"series":"2022 Total Flow","day":204,"flow":4.8},{"series":"2022 Total Flow","day":205,"flow":6.4},{"series":"2022 Total Flow","day":206,"flow":5.3},{"series":"2022 Total Flow","day":207,"flow":3.4},{"series":"2022 Total Flow","day":208,"flow":4.5},{"series":"2022 Total Flow","day":209,"flow":4.4},{"series":"2022 Total Flow","day":210,"flow":7.7},{"series":"2022 Total Flow","day":211,"flow":3.7},{"series":"2022 Total Flow","day":212,"flow":3.2},{"series":"2022 Total Flow","day":213,"flow":2.9},{"series":"2022 Total Flow","day":214,"flow":5.8},{"series":"2022 Total Flow","day":215,"flow":8.0},{"series":"2022 Total Flow","day":216,"flow":6.9},{"series":"2022 Total Flow","day":217,"flow":9.5},{"series":"2022 Total Flow","day":218,"flow":2.1},{"series":"2022 Total Flow","day":219,"flow":2.9},{"series":"2022 Total Flow","day":220,"flow":11.7},{"series":"2022 Total Flow","day":221,"flow":6.6},{"series":"2022 Total Flow","day":222,"flow":4.8},{"series":"2022 Total Flow","day":223,"flow":7.0}
]},
"encoding": {
  "x": {"field": "day", "type": "quantitative",
        "scale": {"domain": [1, 365], "nice": false, "zero": false},
        "axis": {"title": null, "values": [1, 31.5, 62, 92.5, 123, 153.5, 184, 214.5, 245, 275.5, 306, 336.5],
                 "labelExpr": "['1 Jan','31 Jan','3 Mar','2 Apr','3 May','2 Jun','3 Jul','2 Aug','2 Sep','2 Oct','2 Nov','2 Dec'][round((datum.value - 1) / 30.5)]",
                 "grid": true, "gridDash": [3, 2], "gridColor": "#A6A6A6", "gridWidth": 1.25,
                 "domain": false, "ticks": false, "tickSize": 0, "labelPadding": 24,
                 "labelFont": "Lato", "labelFontSize": 22, "labelColor": "#000000",
                 "labelFlush": false, "labelOverlap": false}},
  "y": {"field": "flow", "type": "quantitative",
        "scale": {"domain": [0, 80], "nice": false},
        "axis": {"title": "Daily Total Flow (m³/s)", "values": [0, 10, 20, 30, 40, 50, 60, 70, 80], "format": ".1f",
                 "grid": true, "gridDash": [8, 3], "gridColor": "#999999", "gridWidth": 2,
                 "domain": false, "ticks": false, "tickSize": 0, "labelPadding": 26,
                 "labelFont": "Lato", "labelFontSize": 22, "labelColor": "#000000", "labelFlush": false,
                 "titleFont": "Lato", "titleFontSize": 26, "titleFontWeight": "normal", "titleColor": "#000000",
                 "titleAngle": -90, "titleX": -170, "titleY": 266, "titleAlign": "center", "titleBaseline": "middle"}},
  "color": {"field": "series", "type": "nominal",
            "scale": {"domain": ["Median", "2021 Total Flow", "2022 Total Flow"], "range": ["#548235", "#A9D18E", "#385723"]},
            "legend": {"title": null, "orient": "none", "legendX": 406, "legendY": 610, "direction": "horizontal",
                       "symbolType": "stroke", "symbolSize": 4761, "labelFont": "Liberation Sans",
                       "labelFontSize": 21, "labelColor": "#000000", "labelOffset": 8, "columnPadding": 38, "padding": 0, "labelLimit": 400}},
  "strokeDash": {"field": "series", "type": "nominal",
                 "scale": {"domain": ["Median", "2021 Total Flow", "2022 Total Flow"], "range": [[5, 3], [1, 0], [1, 0]]},
                 "legend": {"title": null, "orient": "none", "legendX": 406, "legendY": 610, "direction": "horizontal",
                       "symbolType": "stroke", "symbolSize": 4761, "labelFont": "Liberation Sans",
                       "labelFontSize": 21, "labelColor": "#000000", "labelOffset": 8, "columnPadding": 38, "padding": 0, "labelLimit": 400}},
  "strokeWidth": {"field": "series", "type": "nominal",
                 "scale": {"type": "ordinal", "domain": ["Median", "2021 Total Flow", "2022 Total Flow"], "range": [2.5, 2.5, 4.5]},
                 "legend": {"title": null, "orient": "none", "legendX": 406, "legendY": 610, "direction": "horizontal",
                       "symbolType": "stroke", "symbolSize": 4761, "labelFont": "Liberation Sans",
                       "labelFontSize": 21, "labelColor": "#000000", "labelOffset": 8, "columnPadding": 38, "padding": 0, "labelLimit": 400}}
},
"layer": [
  {"transform": [{"filter": "datum.series === 'Median'"}], "mark": {"type": "line", "strokeJoin": "round", "strokeCap": "butt"}},
  {"transform": [{"filter": "datum.series === '2021 Total Flow'"}], "mark": {"type": "line", "strokeJoin": "round"}},
  {"transform": [{"filter": "datum.series === '2022 Total Flow'"}], "mark": {"type": "line", "strokeJoin": "round", "strokeCap": "round"}}
]
}
